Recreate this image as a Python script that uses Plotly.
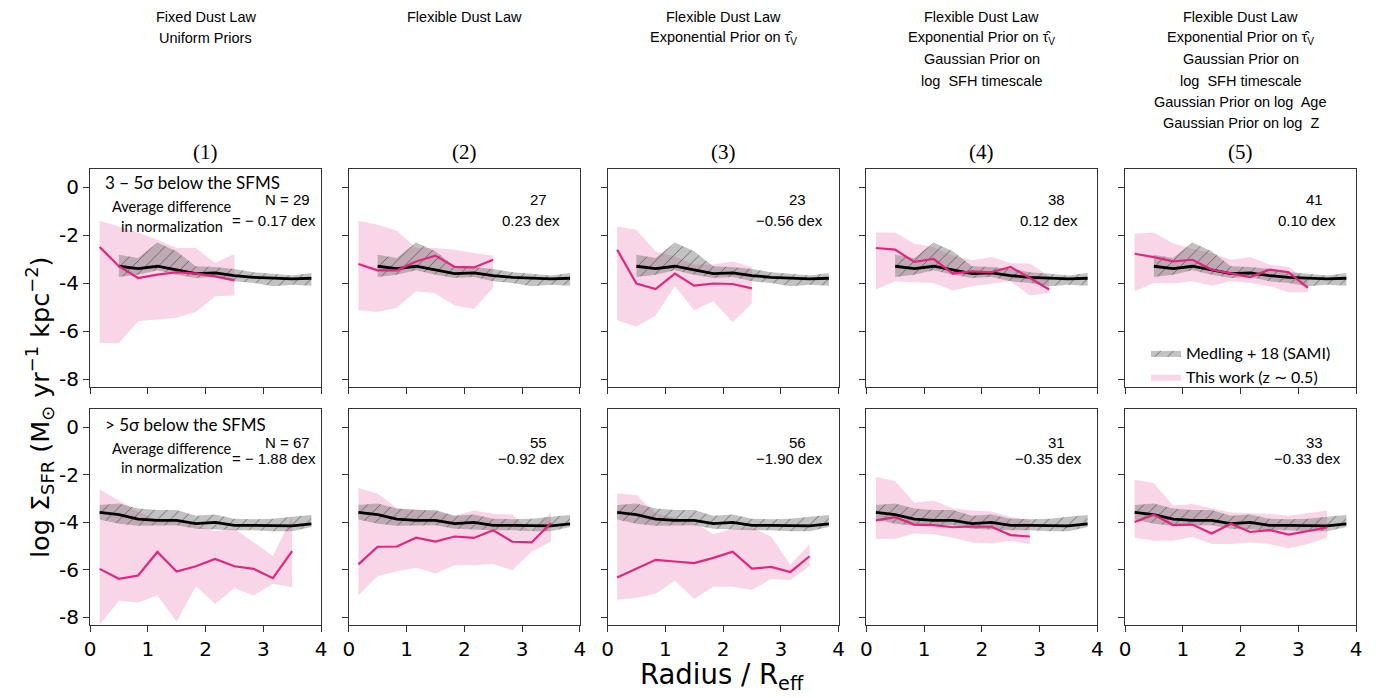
import plotly.graph_objects as go

# ---------------- data ----------------
radius = [0.167, 0.5, 0.833, 1.167, 1.5, 1.833, 2.167, 2.5, 2.833, 3.167, 3.5, 3.833]

# Medling+18 (SAMI) reference profiles
medling_top_r = [0.5, 0.833, 1.167, 1.5, 1.833, 2.167, 2.5, 2.833, 3.167, 3.5, 3.833]
medling_top_mid = [-3.29, -3.39, -3.29, -3.46, -3.60, -3.57, -3.68, -3.75, -3.78, -3.82, -3.79]
medling_top_hi = [-2.81, -2.95, -2.30, -2.67, -3.29, -3.32, -3.40, -3.54, -3.60, -3.68, -3.57]
medling_top_lo = [-3.74, -3.64, -3.46, -3.64, -3.78, -3.74, -3.92, -3.99, -4.12, -4.06, -4.10]

medling_bot_r = [0.167, 0.5, 0.833, 1.167, 1.5, 1.833, 2.167, 2.5, 2.833, 3.167, 3.5, 3.833]
medling_bot_mid = [-3.59, -3.68, -3.87, -3.92, -3.92, -4.06, -4.01, -4.13, -4.13, -4.13, -4.15, -4.07]
medling_bot_hi = [-3.28, -3.21, -3.42, -3.49, -3.49, -3.73, -3.68, -3.85, -3.87, -3.85, -3.77, -3.70]
medling_bot_lo = [-3.89, -4.06, -4.15, -4.15, -4.13, -4.27, -4.30, -4.34, -4.34, -4.38, -4.38, -4.20]

# This work, 3-5 sigma below SFMS (top row), models (1)-(5)
top_mid = [
    [-2.49, -3.29, -3.78, -3.64, -3.54, -3.60, -3.71, -3.88],
    [-3.20, -3.46, -3.46, -3.09, -2.85, -3.32, -3.34, -3.02],
    [-2.60, -4.01, -4.24, -3.60, -4.10, -4.01, -4.03, -4.21],
    [-2.53, -2.60, -3.11, -2.99, -3.60, -3.50, -3.54, -3.32, -3.78, -4.26],
    [-2.77, -2.91, -3.09, -3.02, -3.43, -3.60, -3.74, -3.43, -3.54, -4.19],
]
top_hi = [
    [-1.40, -1.63, -1.88, -2.19, -2.53, -2.53, -3.16, -2.78],
    [-1.40, -1.56, -1.81, -2.53, -2.53, -2.60, -2.74, -2.85],
    [-1.63, -1.77, -2.67, -2.88, -3.22, -3.22, -3.09, -3.32],
    [-1.88, -1.88, -2.35, -2.49, -2.85, -3.04, -2.91, -3.16, -3.18, -3.71],
    [-1.94, -1.88, -2.33, -2.57, -2.74, -3.02, -2.91, -3.22, -3.32, -3.88],
]
top_lo = [
    [-6.48, -6.50, -5.58, -5.51, -5.44, -5.20, -4.54, -4.51],
    [-5.12, -5.20, -5.02, -4.33, -4.43, -4.93, -5.07, -4.19],
    [-5.54, -5.81, -5.34, -4.12, -5.12, -4.75, -5.62, -4.84],
    [-4.26, -3.92, -3.96, -3.99, -4.30, -4.12, -4.03, -3.92, -4.51, -4.40],
    [-4.33, -3.99, -4.01, -3.92, -4.10, -3.92, -3.99, -4.12, -4.37, -4.37],
]

# This work, >5 sigma below SFMS (bottom row)
bot_mid = [
    [-5.96, -6.38, -6.24, -5.25, -6.07, -5.85, -5.54, -5.85, -5.96, -6.35, -5.21],
    [-5.77, -5.03, -5.02, -4.65, -4.81, -4.60, -4.66, -4.34, -4.82, -4.85, -4.03],
    [-6.32, -5.95, -5.58, -5.65, -5.72, -5.50, -5.24, -5.95, -5.88, -6.09, -5.43],
    [-3.92, -3.79, -4.10, -4.12, -4.21, -4.18, -4.19, -4.54, -4.60],
    [-3.99, -3.68, -4.12, -4.10, -4.47, -4.06, -4.41, -4.33, -4.52, -4.36, -4.22],
]
bot_hi = [
    [-2.61, -3.07, -3.56, -3.92, -3.99, -4.13, -4.38, -4.27, -4.83, -5.42, -3.77],
    [-2.56, -2.79, -3.41, -3.45, -3.55, -3.73, -3.51, -3.64, -3.68, -4.44, -3.59],
    [-2.79, -2.86, -3.62, -3.82, -4.00, -4.51, -4.28, -4.23, -4.60, -5.79, -4.92],
    [-2.10, -2.27, -3.18, -3.09, -3.41, -3.51, -3.55, -3.78, -3.89],
    [-2.21, -2.35, -3.31, -3.23, -3.41, -3.59, -3.62, -3.64, -3.73, -3.62, -3.51],
]
bot_lo = [
    [-8.32, -7.30, -7.37, -7.08, -8.18, -6.69, -7.44, -6.77, -7.08, -6.59, -6.73],
    [-7.08, -6.27, -6.06, -5.91, -6.16, -5.81, -5.81, -5.76, -6.02, -5.24, -4.82],
    [-7.26, -7.19, -7.01, -6.46, -7.22, -6.71, -6.71, -6.85, -6.39, -6.43, -5.84],
    [-4.71, -4.69, -4.47, -4.51, -4.65, -4.85, -4.89, -4.78, -4.92],
    [-4.65, -4.78, -4.78, -4.62, -4.92, -4.92, -4.85, -4.92, -5.10, -4.92, -4.65],
]

n_top = [29, 27, 23, 38, 41]
dex_top = [-0.17, 0.23, -0.56, 0.12, 0.10]
n_bot = [67, 55, 56, 31, 33]
dex_bot = [-1.88, -0.92, -1.90, -0.35, -0.33]

col_numbers = ["(1)", "(2)", "(3)", "(4)", "(5)"]
col_titles = [
    ["Fixed Dust Law", "Uniform Priors"],
    ["Flexible Dust Law"],
    ["Flexible Dust Law", "Exponential Prior on τ̂<sub>V</sub>"],
    ["Flexible Dust Law", "Exponential Prior on τ̂<sub>V</sub>", "Gaussian Prior on",
     "log  SFH timescale"],
    ["Flexible Dust Law", "Exponential Prior on τ̂<sub>V</sub>", "Gaussian Prior on",
     "log  SFH timescale", "Gaussian Prior on log  Age", "Gaussian Prior on log  Z"],
]
row_labels = ["3 − 5σ below the SFMS", "> 5σ below the SFMS"]
ytick_vals = [0, -2, -4, -6, -8]
ytick_text = ["0", "-2", "-4", "-6", "-8"]
xtick_vals = [0, 1, 2, 3, 4]

# ---------------- layout geometry (reference pixels) ----------------
OFF = 8                 # page body margin
W, H = 1382 - 2 * OFF, 698 - 2 * OFF


def px(X):
    return (X - OFF) / W


def py(Y):
    return (H - (Y - OFF)) / H


PINK_LINE = "#e2267f"
PINK_FILL = "rgba(236,120,176,0.30)"
GRAY_BG = "rgba(110,110,110,0.42)"
GRAY_FG = "rgba(60,60,60,0.7)"
YR = [-8.32, 0.76]

col_left = [90, 348.75, 607.5, 866.25, 1125]
col_w = 231
row_px = [(169, 387), (409, 625)]

fig = go.Figure()


def band(x, hi, lo):
    return list(x) + list(x)[::-1], list(hi) + list(lo)[::-1]


for row in range(2):
    for col in range(5):
        k = row * 5 + col + 1
        xa = "x" if k == 1 else f"x{k}"
        ya = "y" if k == 1 else f"y{k}"
        if row == 0:
            mid, hi, lo = top_mid[col], top_hi[col], top_lo[col]
            mr, mm, mh, ml = medling_top_r, medling_top_mid, medling_top_hi, medling_top_lo
        else:
            mid, hi, lo = bot_mid[col], bot_hi[col], bot_lo[col]
            mr, mm, mh, ml = medling_bot_r, medling_bot_mid, medling_bot_hi, medling_bot_lo
        r = radius[:len(mid)]
        leg = (row == 0 and col == 4)
        bx, by = band(r, hi, lo)
        fig.add_trace(go.Scatter(x=bx, y=by, xaxis=xa, yaxis=ya, mode="lines",
                                 line=dict(width=0, color=PINK_FILL), fill="toself",
                                 fillcolor=PINK_FILL, name="This work (z ∼ 0.5)",
                                 showlegend=leg, legendrank=2, hoverinfo="skip"))
        gx, gy = band(mr, mh, ml)
        fig.add_trace(go.Scatter(x=gx, y=gy, xaxis=xa, yaxis=ya, mode="lines",
                                 line=dict(width=0, color=GRAY_BG), fill="toself",
                                 fillcolor=GRAY_BG,
                                 fillpattern=dict(shape="/", fgcolor=GRAY_FG, bgcolor=GRAY_BG,
                                                  size=9, solidity=0.1, fillmode="replace"),
                                 name="Medling + 18 (SAMI)",
                                 showlegend=leg, legendrank=1, hoverinfo="skip"))
        fig.add_trace(go.Scatter(x=mr, y=mm, xaxis=xa, yaxis=ya, mode="lines",
                                 line=dict(color="black", width=2.8), showlegend=False))
        fig.add_trace(go.Scatter(x=r, y=mid, xaxis=xa, yaxis=ya, mode="lines",
                                 line=dict(color=PINK_LINE, width=2.2), showlegend=False))

        y0, y1 = row_px[row]
        xd = [px(col_left[col]), px(col_left[col] + col_w)]
        yd = [py(y1), py(y0)]
        axis_common = dict(showline=True, mirror=True, linecolor="#333", linewidth=1,
                           showgrid=False, zeroline=False, ticks="outside", ticklen=6,
                           tickcolor="#333", tickwidth=1, automargin=False,
                           tickfont=dict(family="DejaVu Sans", size=20, color="black"))
        xkey = "xaxis" if k == 1 else f"xaxis{k}"
        ykey = "yaxis" if k == 1 else f"yaxis{k}"
        fig.update_layout({
            xkey: dict(domain=xd, range=[0, 4], tickvals=xtick_vals,
                       showticklabels=(row == 1), anchor=ya, **axis_common),
            ykey: dict(domain=yd, range=YR, tickvals=ytick_vals, ticktext=ytick_text,
                       showticklabels=(col == 0), anchor=xa, **axis_common),
        })

        xdom = f"{xa} domain"
        ydom = f"{ya} domain"
        n_list, d_list = (n_top, dex_top) if row == 0 else (n_bot, dex_bot)
        if col == 0:
            ylab = [0.936, 0.826, 0.738, 0.858, 0.766] if row == 0 else [0.93, 0.819, 0.731, 0.847, 0.769]
            fig.add_annotation(x=0.055, y=ylab[0], xref=xdom, yref=ydom, xanchor="left",
                               yanchor="middle", showarrow=False, text=row_labels[row],
                               font=dict(family="Lato", size=17, color="black"))
            fig.add_annotation(x=0.355, y=ylab[1], xref=xdom, yref=ydom, xanchor="center",
                               yanchor="middle", showarrow=False, text="Average difference",
                               font=dict(family="Lato", size=14.5, color="black"))
            fig.add_annotation(x=0.355, y=ylab[2], xref=xdom, yref=ydom, xanchor="center",
                               yanchor="middle", showarrow=False, text="in normalization",
                               font=dict(family="Lato", size=14.5, color="black"))
            fig.add_annotation(x=0.96, y=ylab[3], xref=xdom, yref=ydom, xanchor="right",
                               yanchor="middle", showarrow=False, text=f"N = {n_list[col]}",
                               font=dict(family="Liberation Sans", size=15, color="black"))
            fig.add_annotation(x=0.985, y=ylab[4], xref=xdom, yref=ydom, xanchor="right",
                               yanchor="middle", showarrow=False,
                               text=f"= − {abs(d_list[col]):.2f} dex",
                               font=dict(family="Liberation Sans", size=15, color="black"))
        else:
            yn, ydx = (0.858, 0.766) if row == 0 else (0.847, 0.769)
            dv = d_list[col]
            dtxt = (f"{dv:.2f}" if dv >= 0 else f"−{abs(dv):.2f}") + " dex"
            fig.add_annotation(x=0.822, y=yn, xref=xdom, yref=ydom, xanchor="center",
                               yanchor="middle", showarrow=False, text=str(n_list[col]),
                               font=dict(family="Liberation Sans", size=15, color="black"))
            fig.add_annotation(x=0.79, y=ydx, xref=xdom, yref=ydom, xanchor="center",
                               yanchor="middle", showarrow=False, text=dtxt,
                               font=dict(family="Liberation Sans", size=15, color="black"))

# column headers
for col in range(5):
    cx = px(col_left[col] + col_w / 2)
    fig.add_annotation(x=cx, y=py(152), xref="paper", yref="paper", showarrow=False,
                       text=col_numbers[col], xanchor="center", yanchor="middle",
                       font=dict(family="Liberation Serif", size=21, color="black"))
    for i, line in enumerate(col_titles[col]):
        fig.add_annotation(x=cx, y=py(17 + 21.2 * i), xref="paper", yref="paper",
                           showarrow=False, text=line, xanchor="center", yanchor="middle",
                           font=dict(family="Liberation Sans", size=14.5, color="black"))

# axis titles
fig.add_annotation(x=px(40), y=py(408), xref="paper", yref="paper", showarrow=False,
                   textangle=-90, xanchor="center", yanchor="middle",
                   text="log Σ<sub>SFR</sub> (M<sub>⊙</sub> yr<sup>−1</sup> kpc<sup>−2</sup>)",
                   font=dict(family="DejaVu Sans", size=25.5, color="black"))
fig.add_annotation(x=px(722), y=py(676), xref="paper", yref="paper", showarrow=False,
                   xanchor="center", yanchor="middle", text="Radius / R<sub>eff</sub>",
                   font=dict(family="DejaVu Sans", size=27.5, color="black"))

fig.update_layout(
    width=W, height=H, margin=dict(l=0, r=0, t=0, b=0),
    paper_bgcolor="white", plot_bgcolor="white",
    showlegend=True,
    legend=dict(x=px(1146), y=py(336), xanchor="left", yanchor="top",
                bgcolor="rgba(0,0,0,0)", font=dict(family="Lato", size=16, color="black"),
                itemwidth=30, tracegroupgap=0),
)

fig.write_html("out.html")
